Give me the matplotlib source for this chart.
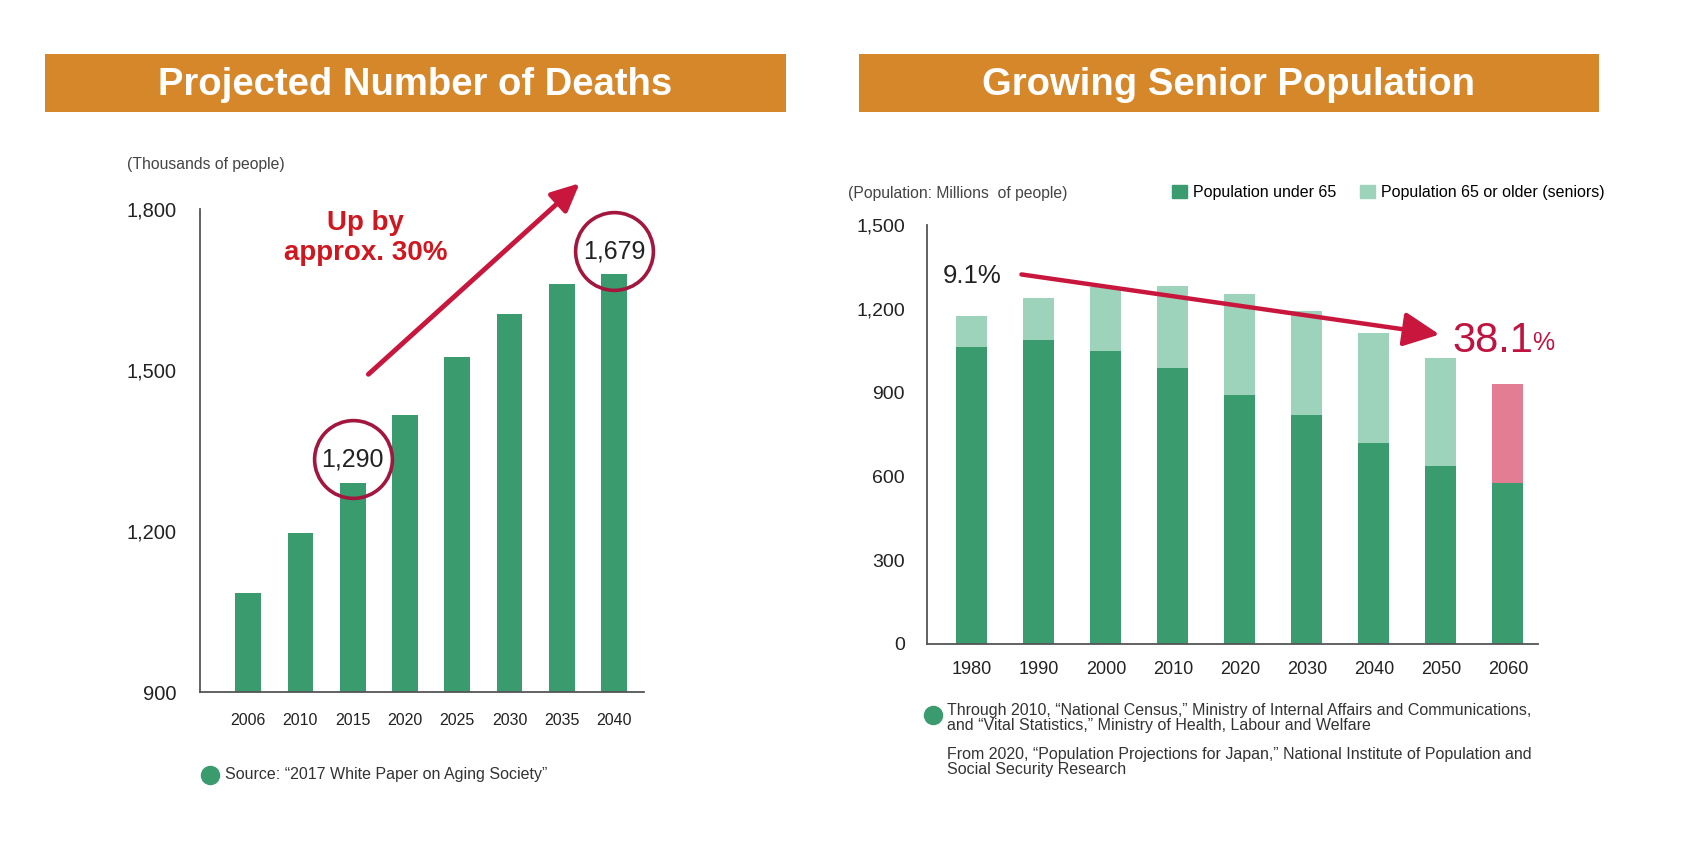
import matplotlib
matplotlib.use("Agg")
import matplotlib.pyplot as plt
from matplotlib.patches import Rectangle, Patch
from matplotlib.lines import Line2D

# ---------------- data ----------------
death_years = ["2006", "2010", "2015", "2020", "2025", "2030", "2035", "2040"]
deaths = [1084, 1196, 1290, 1416, 1524, 1604, 1660, 1679]
death_yticks = [900, 1200, 1500, 1800]
death_yticklabels = ["900", "1,200", "1,500", "1,800"]

pop_years = ["1980", "1990", "2000", "2010", "2020", "2030", "2040", "2050", "2060"]
pop_under65 = [1065, 1088, 1050, 988, 892, 819, 719, 638, 577]
pop_65plus = [108, 150, 227, 293, 362, 373, 393, 385, 354]
pop_yticks = [0, 300, 600, 900, 1200, 1500]
pop_yticklabels = ["0", "300", "600", "900", "1,200", "1,500"]

# ---------------- style ----------------
plt.rcParams["font.family"] = ["Liberation Sans", "DejaVu Sans"]

GREEN = "#3a9c6e"
LIGHT = "#9dd2bb"
PINK = "#e27d93"
ORANGE = "#d6872a"
RED_TXT = "#d0161f"
ARROW_RED = "#c8163d"
PCT_RED = "#c01440"
RING = "#a3173f"
TXT = "#222222"

W, H = 1683, 861
S = 1683 / 1568  # display -> full-size scale
fig = plt.figure(figsize=(W / 100, H / 100), dpi=100)

def frac(x0, y0, x1, y1):
    return [x0 / W, 1 - y1 / H, (x1 - x0) / W, (y1 - y0) / H]

def fpt(xd, yd):
    return (xd * S / W, 1 - yd * S / H)

def dot(xd, yd):
    fx, fy = fpt(xd, yd)
    fig.add_artist(Line2D([fx], [fy], marker="o", ms=13, mfc=GREEN, mec=GREEN,
                          transform=fig.transFigure))

# ---------------- title banners ----------------
for (x0, x1), title in [((45, 786), "Projected Number of Deaths"),
                        ((859, 1599), "Growing Senior Population")]:
    b = frac(x0, 54, x1, 112)
    fig.patches.append(Rectangle((b[0], b[1]), b[2], b[3], transform=fig.transFigure,
                                 facecolor=ORANGE, edgecolor="none", zorder=0))
    fig.text(b[0] + b[2] / 2, b[1] + b[3] / 2 - 0.002, title, ha="center", va="center",
             color="white", fontsize=27.5, fontweight="bold")

# ---------------- left chart ----------------
ax1 = fig.add_axes(frac(200, 209, 644, 692))
x1 = list(range(len(death_years)))
ax1.bar(x1, [d - 900 for d in deaths], bottom=900, width=0.49, color=GREEN, zorder=2)
ax1.set_xlim(-0.92, 7.57)
ax1.set_ylim(900, 1800)
ax1.set_yticks(death_yticks)
ax1.set_yticklabels(death_yticklabels, fontsize=14.5, color=TXT)
ax1.set_xticks(x1)
ax1.set_xticklabels(death_years, fontsize=11.5, color=TXT)
ax1.tick_params(axis="y", length=0, pad=17)
ax1.tick_params(axis="x", length=0, pad=15)
for s in ["top", "right"]:
    ax1.spines[s].set_visible(False)
for s in ["left", "bottom"]:
    ax1.spines[s].set_color("#555555")
    ax1.spines[s].set_linewidth(1.3)

fx, fy = fpt(118, 153)
fig.text(fx, fy, "(Thousands of people)", fontsize=11.3, color="#444444", va="center")

# circled values
for i in (2, 7):
    v = deaths[i]
    cy = v + 44 if i == 2 else v + 42
    ax1.plot([i], [cy], "o", ms=56, mfc="none", mec=RING, mew=2.6,
             clip_on=False, zorder=4)
    ax1.text(i, cy, f"{v:,}", ha="center", va="center", fontsize=18,
             color=TXT, zorder=5)

# arrow
ax1.annotate("", xy=(6.34, 1848), xytext=(2.30, 1492), xycoords="data",
             arrowprops=dict(arrowstyle="-|>,head_length=1.7,head_width=0.8",
                             color=ARROW_RED, lw=3.5, shrinkA=0, shrinkB=0),
             annotation_clip=False, zorder=5)
ax1.text(2.24, 1746, "Up by\napprox. 30%", ha="center", va="center",
         fontsize=20, fontweight="bold", color=RED_TXT, linespacing=1.2)

# source note
dot(196, 722)
fx, fy = fpt(210, 722)
fig.text(fx, fy, "Source: \u201c2017 White Paper on Aging Society\u201d",
         fontsize=11.5, color="#333333", va="center")

# ---------------- right chart ----------------
ax2 = fig.add_axes(frac(927, 225, 1538, 644))
x2 = list(range(len(pop_years)))
senior_colors = [LIGHT] * (len(pop_years) - 1) + [PINK]
ax2.bar(x2, pop_under65, width=0.46, color=GREEN, zorder=2)
ax2.bar(x2, pop_65plus, bottom=pop_under65, width=0.46, color=senior_colors, zorder=2)
ax2.set_xlim(-0.67, 8.45)
ax2.set_ylim(0, 1500)
ax2.set_yticks(pop_yticks)
ax2.set_yticklabels(pop_yticklabels, fontsize=14, color=TXT)
ax2.set_xticks(x2)
ax2.set_xticklabels(pop_years, fontsize=13, color=TXT)
ax2.tick_params(axis="y", length=0, pad=16)
ax2.tick_params(axis="x", length=0, pad=12)
for s in ["top", "right"]:
    ax2.spines[s].set_visible(False)
for s in ["left", "bottom"]:
    ax2.spines[s].set_color("#555555")
    ax2.spines[s].set_linewidth(1.3)

fx, fy = fpt(790, 180)
fig.text(fx, fy, "(Population: Millions  of people)", fontsize=11.3,
         color="#444444", va="center")

handles = [Patch(color=GREEN, label="Population under 65"),
           Patch(color=LIGHT, label="Population 65 or older (seniors)")]
fig.legend(handles=handles, ncol=2, frameon=False, loc="center right",
           bbox_to_anchor=fpt(1495, 179),
           fontsize=11.5, handlelength=0.9, handleheight=0.9, handletextpad=0.4,
           columnspacing=1.5, borderaxespad=0, borderpad=0)

# trend arrow
ax2.annotate("", xy=(6.98, 1108), xytext=(0.74, 1323),
             arrowprops=dict(arrowstyle="-|>,head_length=2.2,head_width=1.05",
                             color=ARROW_RED, lw=3.2, shrinkA=0, shrinkB=0),
             annotation_clip=False, zorder=5)
ax2.text(0.0, 1318, "9.1%", ha="center", va="center", fontsize=18.5, color=TXT, zorder=6)
t = ax2.text(7.18, 1085, "38.1", ha="left", va="center", fontsize=30,
             color=PCT_RED, zorder=6)
ax2.annotate("%", xy=(1, 0), xycoords=t, xytext=(-1, 4), textcoords="offset points",
             ha="left", va="bottom", fontsize=18, color=PCT_RED)

# footnotes
dot(869, 666)
notes = [
    (662, "Through 2010, \u201cNational Census,\u201d Ministry of Internal Affairs and Communications,"),
    (676, "and \u201cVital Statistics,\u201d Ministry of Health, Labour and Welfare"),
    (703, "From 2020, \u201cPopulation Projections for Japan,\u201d National Institute of Population and"),
    (717, "Social Security Research"),
]
for y, s in notes:
    fx, fy = fpt(882, y)
    fig.text(fx, fy, s, fontsize=11.5, color="#333333", va="center")

fig.savefig("out.png", dpi=100, facecolor="white")
